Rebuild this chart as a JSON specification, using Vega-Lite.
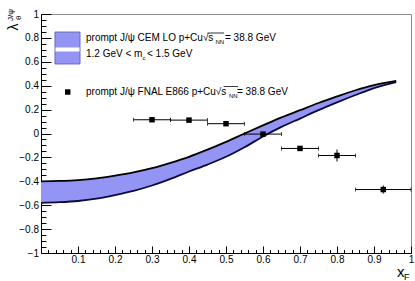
{
  "$schema": "https://vega.github.io/schema/vega-lite/v6.json",
  "width": 370,
  "height": 239,
  "autosize": {"type": "none"},
  "padding": {"left": 41, "top": 14, "right": 4, "bottom": 28},
  "config": {
    "font": "Liberation Sans",
    "view": {"stroke": "#8c8c8c", "strokeWidth": 1},
    "axis": {"grid": false, "title": null, "domainColor": "#000000", "tickColor": "#000000", "labelColor": "#000000", "labelFontSize": 10, "labelFont": "Liberation Sans", "tickWidth": 1, "domainWidth": 1}
  },
  "datasets": {
    "cem": [
      {"x": 0.0, "hi": -0.4, "lo": -0.58},
      {"x": 0.05, "hi": -0.397, "lo": -0.575},
      {"x": 0.1, "hi": -0.39, "lo": -0.565},
      {"x": 0.15, "hi": -0.375, "lo": -0.545},
      {"x": 0.2, "hi": -0.352, "lo": -0.515},
      {"x": 0.25, "hi": -0.325, "lo": -0.48},
      {"x": 0.3, "hi": -0.29, "lo": -0.435},
      {"x": 0.35, "hi": -0.245, "lo": -0.38},
      {"x": 0.4, "hi": -0.195, "lo": -0.318},
      {"x": 0.45, "hi": -0.135, "lo": -0.26},
      {"x": 0.5, "hi": -0.07, "lo": -0.195},
      {"x": 0.55, "hi": 0.0, "lo": -0.115},
      {"x": 0.6, "hi": 0.068, "lo": -0.025},
      {"x": 0.65, "hi": 0.135, "lo": 0.055},
      {"x": 0.7, "hi": 0.195, "lo": 0.125},
      {"x": 0.75, "hi": 0.255, "lo": 0.195},
      {"x": 0.8, "hi": 0.31, "lo": 0.26},
      {"x": 0.85, "hi": 0.362, "lo": 0.322},
      {"x": 0.9, "hi": 0.405, "lo": 0.38},
      {"x": 0.96, "hi": 0.44, "lo": 0.43}
    ],
    "e866": [
      {"x": 0.3, "y": 0.115, "xlo": 0.25, "xhi": 0.35, "ylo": 0.105, "yhi": 0.125},
      {"x": 0.4, "y": 0.112, "xlo": 0.35, "xhi": 0.45, "ylo": 0.102, "yhi": 0.122},
      {"x": 0.5, "y": 0.082, "xlo": 0.45, "xhi": 0.55, "ylo": 0.07, "yhi": 0.094},
      {"x": 0.6, "y": -0.005, "xlo": 0.55, "xhi": 0.65, "ylo": -0.02, "yhi": 0.01},
      {"x": 0.7, "y": -0.125, "xlo": 0.65, "xhi": 0.75, "ylo": -0.14, "yhi": -0.11},
      {"x": 0.8, "y": -0.184, "xlo": 0.75, "xhi": 0.85, "ylo": -0.234, "yhi": -0.134},
      {"x": 0.925, "y": -0.469, "xlo": 0.85, "xhi": 1.0, "ylo": -0.503, "yhi": -0.435}
    ]
  },
  "resolve": {"axis": {"x": "independent", "y": "independent"}},
  "layer": [
    {
      "data": {"name": "cem"},
      "mark": {"type": "area", "color": "#9494f4", "opacity": 1, "interpolate": "monotone"},
      "encoding": {
        "x": {"field": "x", "type": "quantitative", "scale": {"domain": [0, 1], "nice": false, "zero": false},
          "axis": {"orient": "bottom", "values": [0.1, 0.2, 0.3, 0.4, 0.5, 0.6, 0.7, 0.8, 0.9, 1], "format": "~g", "tickSize": -7, "labelPadding": 8.5, "labelFlush": false, "labelOverlap": false}},
        "y": {"field": "hi", "type": "quantitative", "scale": {"domain": [-1, 1], "nice": false, "zero": false},
          "axis": {"orient": "left", "values": [-1, -0.8, -0.6, -0.4, -0.2, 0, 0.2, 0.4, 0.6, 0.8, 1], "format": "~g", "tickSize": -10, "labelPadding": 12.5, "labelFlush": false, "labelOverlap": false}},
        "y2": {"field": "lo"}
      }
    },
    {
      "data": {"name": "cem"},
      "mark": {"type": "line", "color": "#000000", "strokeWidth": 1.8, "interpolate": "monotone"},
      "encoding": {
        "x": {"field": "x", "type": "quantitative",
          "axis": {"orient": "bottom", "values": [0.02,0.04,0.06,0.08,0.12,0.14,0.16,0.18,0.22,0.24,0.26,0.28,0.32,0.34,0.36,0.38,0.42,0.44,0.46,0.48,0.52,0.54,0.56,0.58,0.62,0.64,0.66,0.68,0.72,0.74,0.76,0.78,0.82,0.84,0.86,0.88,0.92,0.94,0.96,0.98], "tickSize": -3.5, "labels": false, "domain": false}},
        "y": {"field": "hi", "type": "quantitative",
          "axis": {"orient": "left", "values": [-0.95,-0.9,-0.85,-0.75,-0.7,-0.65,-0.55,-0.5,-0.45,-0.35,-0.3,-0.25,-0.15,-0.1,-0.05,0.05,0.1,0.15,0.25,0.3,0.35,0.45,0.5,0.55,0.65,0.7,0.75,0.85,0.9,0.95], "tickSize": -5, "labels": false, "domain": false}}
      }
    },
    {
      "data": {"name": "cem"},
      "mark": {"type": "line", "color": "#0a0a40", "strokeWidth": 1.8, "interpolate": "monotone"},
      "encoding": {
        "x": {"field": "x", "type": "quantitative", "axis": null},
        "y": {"field": "lo", "type": "quantitative", "axis": null}
      }
    },
    {
      "data": {"name": "e866"},
      "mark": {"type": "rule", "color": "#000000", "strokeWidth": 1},
      "encoding": {
        "x": {"field": "xlo", "type": "quantitative", "axis": null},
        "x2": {"field": "xhi"},
        "y": {"field": "y", "type": "quantitative", "axis": null}
      }
    },
    {
      "data": {"name": "e866"},
      "mark": {"type": "rule", "color": "#000000", "strokeWidth": 1},
      "encoding": {
        "x": {"field": "x", "type": "quantitative", "axis": null},
        "y": {"field": "ylo", "type": "quantitative", "axis": null},
        "y2": {"field": "yhi"}
      }
    },
    {
      "data": {"name": "e866"},
      "mark": {"type": "tick", "color": "#000000", "orient": "vertical", "size": 4, "thickness": 1},
      "encoding": {
        "x": {"field": "xlo", "type": "quantitative", "axis": null},
        "y": {"field": "y", "type": "quantitative", "axis": null}
      }
    },
    {
      "data": {"name": "e866"},
      "mark": {"type": "tick", "color": "#000000", "orient": "vertical", "size": 4, "thickness": 1},
      "encoding": {
        "x": {"field": "xhi", "type": "quantitative", "axis": null},
        "y": {"field": "y", "type": "quantitative", "axis": null}
      }
    },
    {
      "data": {"name": "e866"},
      "mark": {"type": "point", "shape": "square", "filled": true, "color": "#000000", "size": 30, "opacity": 1},
      "encoding": {
        "x": {"field": "x", "type": "quantitative", "axis": null},
        "y": {"field": "y", "type": "quantitative", "axis": null}
      }
    },
    {
      "data": {"values": [{"a": 0.0378, "b": 0.1054, "c": 0.849, "d": 0.582}]},
      "mark": {"type": "rect", "fill": "#9494f4", "stroke": "#6a6ab0", "strokeWidth": 1},
      "encoding": {
        "x": {"field": "a", "type": "quantitative", "axis": null},
        "x2": {"field": "b"},
        "y": {"field": "c", "type": "quantitative", "axis": null},
        "y2": {"field": "d"}
      }
    },
    {
      "data": {"values": [{"a": 0.0392, "b": 0.104, "c": 0.72, "d": 0.686}]},
      "mark": {"type": "rect", "fill": "#ffffff"},
      "encoding": {
        "x": {"field": "a", "type": "quantitative", "axis": null},
        "x2": {"field": "b"},
        "y": {"field": "c", "type": "quantitative", "axis": null},
        "y2": {"field": "d"}
      }
    },
    {
      "data": {"values": [{"a": 0.0722, "b": 0.347}]},
      "mark": {"type": "point", "shape": "square", "filled": true, "color": "#000000", "size": 30, "opacity": 1},
      "encoding": {
        "x": {"field": "a", "type": "quantitative", "axis": null},
        "y": {"field": "b", "type": "quantitative", "axis": null}
      }
    },
    {
      "data": {"values": [
        {"a": 0.1216, "b": 0.770, "t": "prompt J/ψ CEM LO p+Cu√s"},
        {"a": 0.4973, "b": 0.770, "t": "= 38.8 GeV"},
        {"a": 0.1216, "b": 0.640, "t": "1.2 GeV < m"},
        {"a": 0.2865, "b": 0.640, "t": "< 1.5 GeV"},
        {"a": 0.1216, "b": 0.322, "t": "prompt J/ψ FNAL E866 p+Cu√s"},
        {"a": 0.5297, "b": 0.322, "t": "= 38.8 GeV"}
      ]},
      "mark": {"type": "text", "align": "left", "baseline": "alphabetic", "fontSize": 10, "color": "#000000"},
      "encoding": {
        "x": {"field": "a", "type": "quantitative", "axis": null},
        "y": {"field": "b", "type": "quantitative", "axis": null},
        "text": {"field": "t"}
      }
    },
    {
      "data": {"values": [
        {"a": 0.45, "b": 0.4946, "c": 0.841},
        {"a": 0.4935, "b": 0.5324, "c": 0.393}
      ]},
      "mark": {"type": "rule", "color": "#000000", "strokeWidth": 0.8},
      "encoding": {
        "x": {"field": "a", "type": "quantitative", "axis": null},
        "x2": {"field": "b"},
        "y": {"field": "c", "type": "quantitative", "axis": null}
      }
    },
    {
      "data": {"values": [
        {"a": 0.4716, "b": 0.749, "t": "NN"},
        {"a": 0.5081, "b": 0.301, "t": "NN"},
        {"a": 0.2743, "b": 0.619, "t": "c"}
      ]},
      "mark": {"type": "text", "align": "left", "baseline": "alphabetic", "fontSize": 6, "color": "#000000"},
      "encoding": {
        "x": {"field": "a", "type": "quantitative", "axis": null},
        "y": {"field": "b", "type": "quantitative", "axis": null},
        "text": {"field": "t"}
      }
    },
    {
      "data": {"values": [{"a": -0.0635, "b": 0.891, "t": "λ"}]},
      "mark": {"type": "text", "align": "center", "baseline": "alphabetic", "angle": 270, "fontSize": 14, "color": "#000000"},
      "encoding": {
        "x": {"field": "a", "type": "quantitative", "axis": null},
        "y": {"field": "b", "type": "quantitative", "axis": null},
        "text": {"field": "t"}
      }
    },
    {
      "data": {"values": [{"a": -0.0541, "b": 0.95, "t": "θ"}, {"a": -0.077, "b": 0.941, "t": "J/ψ"}]},
      "mark": {"type": "text", "align": "left", "baseline": "alphabetic", "angle": 270, "fontSize": 8, "color": "#000000"},
      "encoding": {
        "x": {"field": "a", "type": "quantitative", "axis": null},
        "y": {"field": "b", "type": "quantitative", "axis": null},
        "text": {"field": "t"}
      }
    },
    {
      "data": {"values": [{"a": 0.9622, "b": -1.1967, "t": "x"}]},
      "mark": {"type": "text", "align": "left", "baseline": "alphabetic", "fontSize": 15, "color": "#000000"},
      "encoding": {
        "x": {"field": "a", "type": "quantitative", "axis": null},
        "y": {"field": "b", "type": "quantitative", "axis": null},
        "text": {"field": "t"}
      }
    },
    {
      "data": {"values": [{"a": 0.981, "b": -1.226, "t": "F"}]},
      "mark": {"type": "text", "align": "left", "baseline": "alphabetic", "fontSize": 9, "color": "#000000"},
      "encoding": {
        "x": {"field": "a", "type": "quantitative", "axis": null},
        "y": {"field": "b", "type": "quantitative", "axis": null},
        "text": {"field": "t"}
      }
    }
  ]
}
